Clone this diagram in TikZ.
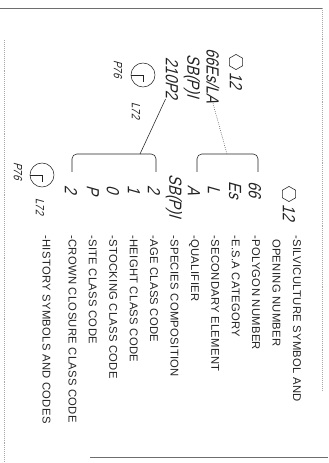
\documentclass[tikz,border=0pt]{standalone}
\usepackage{fontspec}
\setmainfont{Liberation Sans}
\newfontfamily\typedfont{Liberation Sans}[LetterSpace=3.0]
\newfontfamily\handfont{Liberation Sans}[FakeStretch=0.82, FakeSlant=0.28]
\usetikzlibrary{positioning,shapes.geometric}
\definecolor{inkgray}{RGB}{35,35,35}
\definecolor{framegray}{RGB}{110,110,110}

\begin{document}
\begin{tikzpicture}[x=0.25mm, y=0.25mm, node distance=5.1mm,
    typed/.style={font=\typedfont\fontsize{8}{8}\selectfont, inner sep=0pt, text=inkgray},
    hand/.style={font=\handfont\fontsize{12.5}{12.5}\selectfont, inner sep=0pt, text=inkgray},
    handsmall/.style={font=\handfont\fontsize{8.5}{8.5}\selectfont, inner sep=0pt, text=inkgray},
    hexa/.style={draw=inkgray, thin, regular polygon, regular polygon sides=6, minimum size=3.8mm, inner sep=0pt},
    histsym/.style={draw=inkgray, thin, circle, minimum size=6mm, inner sep=0pt},
    bracketline/.style={draw=inkgray, thin, rounded corners=1.2mm},
    leader/.style={draw=inkgray, thin}]

  \useasboundingbox (0,0) rectangle (328,-463);
  \begin{scope}[rotate=-90, transform shape]
    % scan frame
    \draw[framegray, line width=0.7pt] (8,0) -- (8,322);
    \draw[framegray!60, densely dotted] (8,322) -- (390,322);
    \draw[framegray!60, densely dotted] (40,4) -- (463,4);
    \draw[framegray, line width=0.6pt] (457,90) -- (457,328);

    % example label
    \node[hexa] (hexTop) at (62,236) {};
    \node[hand, right=0.6mm of hexTop] (numTop) {12};
    \node[hand] (polyTop) at (76,213) {66Es/LA};
    \node[hand] (specTop) at (76,192) {SB(P)I};
    \node[hand] (codeTop) at (78,172) {210P2};
    \node[histsym] (histTop) at (75,143) {};
    \draw[inkgray, thin] (histTop.south) -- (histTop.center) -- ++(1.8mm,0);
    \node[handsmall, anchor=west] (lTop) at (102,136) {L72};
    \node[handsmall, anchor=west] (pTop) at (60,118) {P76};

    % codes column
    \node[hexa] (hexLow) at (194,289) {};
    \node[hand, right=0.6mm of hexLow] (numLow) {12};
    \node[hand] (cPoly) at (190,255) {66};
    \node[hand] (cEsa) at (190,235) {Es};
    \node[hand] (cSec) at (190,214) {L};
    \node[hand] (cQual) at (190,194) {A};
    \node[hand] (cSpec) at (196,174) {SB(P)I};
    \node[hand] (cAge) at (190,154) {2};
    \node[hand] (cHgt) at (190,134) {1};
    \node[hand] (cStk) at (190,113) {0};
    \node[hand] (cSite) at (190,93) {P};
    \node[hand] (cCrown) at (190,71) {2};
    \node[histsym] (histLow) at (175,42) {};
    \draw[inkgray, thin] (histLow.south) -- (histLow.center) -- ++(1.8mm,0);
    \node[handsmall, anchor=west] (lLow) at (198,40) {L72};
    \node[handsmall, anchor=west] (pLow) at (162,18) {P76};

    % brackets and leaders
    \draw[bracketline] (172,258) -- (154,258) -- (154,197) -- (172,197);
    \coordinate (apexR) at (154,227);
    \draw[bracketline] (172,156) -- (154,156) -- (154,72) -- (172,72);
    \coordinate (apexL) at (154,140);
    \draw[leader, densely dotted] (polyTop.east) -- (apexR);
    \draw[leader] (codeTop.south east) -- (apexL);

    % descriptions
    \node[typed, anchor=base west] (dSilv) at (235,293) {-SILVICULTURE SYMBOL AND};
    \node[typed, below=of dSilv.base west, anchor=base west] (dOpen) {\phantom{-}OPENING NUMBER};
    \node[typed, below=of dOpen.base west, anchor=base west] (dPoly) {-POLYGON NUMBER};
    \node[typed, below=of dPoly.base west, anchor=base west] (dEsa) {-E.S.A CATEGORY};
    \node[typed, below=of dEsa.base west, anchor=base west] (dSec) {-SECONDARY ELEMENT};
    \node[typed, below=of dSec.base west, anchor=base west] (dQual) {-QUALIFIER};
    \node[typed, below=of dQual.base west, anchor=base west] (dSpec) {-SPECIES COMPOSITION};
    \node[typed, below=of dSpec.base west, anchor=base west] (dAge) {-AGE CLASS CODE};
    \node[typed, below=of dAge.base west, anchor=base west] (dHgt) {-HEIGHT CLASS CODE};
    \node[typed, below=of dHgt.base west, anchor=base west] (dStk) {-STOCKING CLASS CODE};
    \node[typed, below=of dStk.base west, anchor=base west] (dSite) {-SITE CLASS CODE};
    \node[typed, below=of dSite.base west, anchor=base west] (dCrown) {-CROWN CLOSURE CLASS CODE};
    \node[typed, below=6.5mm of dCrown.base west, anchor=base west] (dHist) {-HISTORY SYMBOLS AND CODES};
  \end{scope}
\end{tikzpicture}
\end{document}
